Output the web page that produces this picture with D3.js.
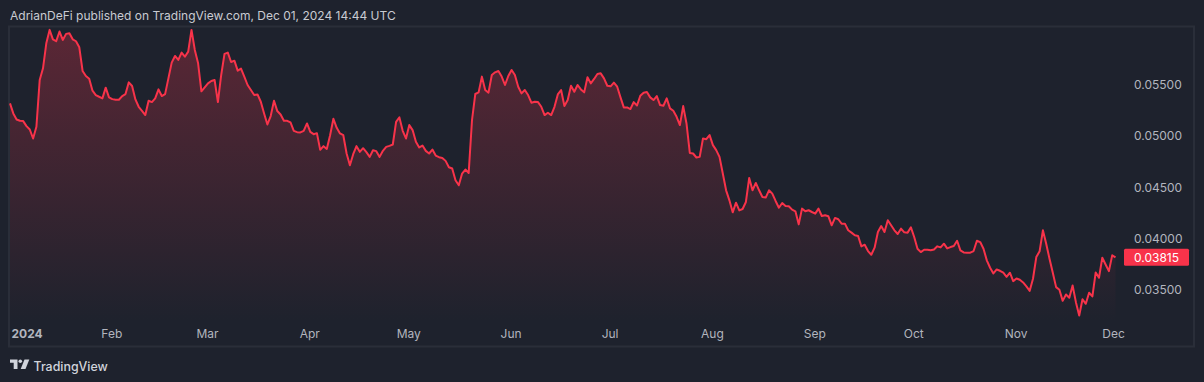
<!DOCTYPE html>
<html>
<head>
<meta charset="utf-8">
<script src="https://cdn.jsdelivr.net/npm/d3@7"></script>
<style>
    html, body { margin: 0; padding: 0; background: #1e222d; overflow: hidden; }
    svg { display: block; }
    text { font-family: Inter, "Noto Sans", sans-serif; }
</style>
</head>
<body>
<svg id="chart" width="1204" height="382"></svg>
<script>
// Daily close, first value is 2024-01-01, last is 2024-12-01
const startDate = '2024-01-01';
const prices = [
    0.05320, 0.05222, 0.05163, 0.05150, 0.05147, 0.05098, 0.05065, 0.04977, 0.05091, 0.05549,
    0.05663, 0.05908, 0.06039, 0.05947, 0.05928, 0.06023, 0.05941, 0.06000, 0.06006, 0.05947,
    0.05928, 0.05869, 0.05637, 0.05588, 0.05562, 0.05444, 0.05402, 0.05385, 0.05369, 0.05474,
    0.05379, 0.05362, 0.05356, 0.05356, 0.05392, 0.05411, 0.05526, 0.05490, 0.05359, 0.05287,
    0.05248, 0.05206, 0.05346, 0.05333, 0.05369, 0.05457, 0.05392, 0.05411, 0.05565, 0.05719,
    0.05784, 0.05745, 0.05817, 0.05777, 0.05826, 0.06039, 0.05843, 0.05712, 0.05438, 0.05477,
    0.05516, 0.05539, 0.05549, 0.05333, 0.05598, 0.05804, 0.05817, 0.05725, 0.05738, 0.05640,
    0.05660, 0.05581, 0.05500, 0.05451, 0.05402, 0.05408, 0.05336, 0.05222, 0.05114, 0.05196,
    0.05346, 0.05245, 0.05212, 0.05150, 0.05150, 0.05134, 0.05052, 0.05039, 0.05036, 0.05052,
    0.05124, 0.05042, 0.05019, 0.05029, 0.04866, 0.04902, 0.04875, 0.05009, 0.05170, 0.05081,
    0.05026, 0.05009, 0.04830, 0.04715, 0.04823, 0.04902, 0.04846, 0.04882, 0.04843, 0.04797,
    0.04862, 0.04853, 0.04797, 0.04856, 0.04895, 0.04905, 0.04918, 0.05140, 0.05183, 0.05052,
    0.04977, 0.05108, 0.05059, 0.04944, 0.04889, 0.04908, 0.04856, 0.04830, 0.04869, 0.04810,
    0.04794, 0.04787, 0.04758, 0.04696, 0.04683, 0.04568, 0.04519, 0.04634, 0.04673, 0.04640,
    0.05157, 0.05412, 0.05428, 0.05582, 0.05451, 0.05425, 0.05598, 0.05624, 0.05637, 0.05582,
    0.05500, 0.05588, 0.05647, 0.05598, 0.05483, 0.05418, 0.05451, 0.05402, 0.05327, 0.05336,
    0.05333, 0.05287, 0.05206, 0.05229, 0.05206, 0.05287, 0.05408, 0.05451, 0.05294, 0.05353,
    0.05493, 0.05434, 0.05500, 0.05457, 0.05428, 0.05575, 0.05516, 0.05559, 0.05608, 0.05614,
    0.05565, 0.05493, 0.05487, 0.05523, 0.05483, 0.05379, 0.05281, 0.05281, 0.05265, 0.05333,
    0.05300, 0.05395, 0.05425, 0.05431, 0.05379, 0.05353, 0.05392, 0.05304, 0.05297, 0.05369,
    0.05271, 0.05248, 0.05189, 0.05108, 0.05294, 0.05124, 0.04836, 0.04830, 0.04791, 0.04797,
    0.04977, 0.04970, 0.05010, 0.04912, 0.04863, 0.04797, 0.04634, 0.04470, 0.04372, 0.04255,
    0.04349, 0.04274, 0.04287, 0.04356, 0.04591, 0.04470, 0.04542, 0.04470, 0.04405, 0.04399,
    0.04470, 0.04438, 0.04366, 0.04300, 0.04346, 0.04317, 0.04314, 0.04281, 0.04265, 0.04137,
    0.04291, 0.04265, 0.04275, 0.04258, 0.04242, 0.04291, 0.04219, 0.04226, 0.04216, 0.04128,
    0.04200, 0.04187, 0.04144, 0.04144, 0.04079, 0.04056, 0.04030, 0.04023, 0.03922, 0.03938,
    0.03876, 0.03840, 0.03909, 0.04062, 0.04121, 0.04062, 0.04177, 0.04128, 0.04079, 0.04043,
    0.04095, 0.04059, 0.04056, 0.04108, 0.04013, 0.03899, 0.03866, 0.03889, 0.03889, 0.03883,
    0.03892, 0.03922, 0.03912, 0.03948, 0.03902, 0.03915, 0.03925, 0.03977, 0.03883, 0.03863,
    0.03860, 0.03860, 0.03876, 0.03977, 0.03964, 0.03899, 0.03785, 0.03713, 0.03657, 0.03696,
    0.03683, 0.03664, 0.03624, 0.03664, 0.03582, 0.03608, 0.03595, 0.03569, 0.03530, 0.03487,
    0.03605, 0.03817, 0.03873, 0.04079, 0.03948, 0.03801, 0.03664, 0.03523, 0.03497, 0.03389,
    0.03451, 0.03419, 0.03539, 0.03376, 0.03245, 0.03405, 0.03360, 0.03468, 0.03432, 0.03667,
    0.03615, 0.03811, 0.03745, 0.03680, 0.03834, 0.03815
];
const lastPrice = 0.03815;
const priceTicks = [0.035, 0.04, 0.045, 0.05, 0.055];
const monthTicks = ['2024-01-01', '2024-02-01', '2024-03-01', '2024-04-01', '2024-05-01', '2024-06-01',
    '2024-07-01', '2024-08-01', '2024-09-01', '2024-10-01', '2024-11-01', '2024-12-01'];
const monthLabels = ['2024', 'Feb', 'Mar', 'Apr', 'May', 'Jun', 'Jul', 'Aug', 'Sep', 'Oct', 'Nov', 'Dec'];
const publishedText = 'AdrianDeFi published on TradingView.com, Dec 01, 2024 14:44 UTC';

const lineColour = '#f8334a';
const borderColour = '#2a2e39';
const labelColour = '#b2b5be';

const svg = d3.select('#chart');
const parseDay = d3.utcParse('%Y-%m-%d');
const t0 = parseDay(startDate);
const data = prices.map((p, i) => ({ date: d3.utcDay.offset(t0, i), price: p }));

const paneBottom = 322;

const xScale = d3.scaleUtc()
    .domain([t0, parseDay('2024-12-01')])
    .range([10, 1115.5]);

const yScale = d3.scaleLinear()
    .domain([0.035, 0.055])
    .range([289.5, 85]);

// Fade of the area, strongest at the top of the series
const grad = svg.append('defs').append('linearGradient')
    .attr('id', 'areaFade')
    .attr('gradientUnits', 'userSpaceOnUse')
    .attr('x1', 0).attr('x2', 0)
    .attr('y1', yScale(d3.max(prices))).attr('y2', paneBottom);
grad.append('stop').attr('offset', 0).attr('stop-color', lineColour).attr('stop-opacity', 0.28);
grad.append('stop').attr('offset', 1).attr('stop-color', lineColour).attr('stop-opacity', 0);

// Outer frame of the published picture
svg.append('rect')
    .attr('x', 9).attr('y', 26.5)
    .attr('width', 1185).attr('height', 320)
    .attr('fill', 'none')
    .attr('stroke', borderColour)
    .attr('stroke-width', 2);

const area = d3.area()
    .x(d => xScale(d.date))
    .y0(paneBottom)
    .y1(d => yScale(d.price));

const line = d3.line()
    .x(d => xScale(d.date))
    .y(d => yScale(d.price));

svg.append('path')
    .datum(data)
    .attr('d', area)
    .attr('fill', 'url(#areaFade)');

svg.append('path')
    .datum(data)
    .attr('d', line)
    .attr('fill', 'none')
    .attr('stroke', lineColour)
    .attr('stroke-width', 2)
    .attr('stroke-linejoin', 'round');

// Price axis on the right
const yAxis = d3.axisRight(yScale)
    .tickValues(priceTicks)
    .tickFormat(d3.format('.5f'))
    .tickSize(0)
    .tickPadding(0);

const yAxisG = svg.append('g')
    .attr('transform', 'translate(1134, 0)')
    .call(yAxis);
yAxisG.select('.domain').remove();
yAxisG.selectAll('text')
    .attr('font-size', 12)
    .attr('fill', labelColour)
    .style('font-family', 'Inter, sans-serif');

// Time axis at the bottom
const xAxis = d3.axisBottom(xScale)
    .tickValues(monthTicks.map(parseDay))
    .tickFormat((d, i) => monthLabels[i])
    .tickSize(0)
    .tickPadding(0);

const xAxisG = svg.append('g')
    .attr('transform', 'translate(-1, 329)')
    .call(xAxis);
xAxisG.select('.domain').remove();
xAxisG.selectAll('text')
    .attr('font-size', 12)
    .attr('fill', labelColour)
    .style('font-family', 'Inter, sans-serif');
// The year label is bold and kept inside the pane, Dec sits a bit left of its bar
xAxisG.selectAll('text').filter((d, i) => i === 0)
    .attr('text-anchor', 'start')
    .attr('dx', 2)
    .attr('font-weight', 700);
xAxisG.selectAll('text').filter((d, i) => i === monthLabels.length - 1)
    .attr('dx', -1.5);

// Last price tag
svg.append('rect')
    .attr('x', 1124)
    .attr('y', yScale(lastPrice) - 8.5)
    .attr('width', 65)
    .attr('height', 17)
    .attr('rx', 1.5)
    .attr('fill', lineColour);
svg.append('text')
    .attr('x', 1134)
    .attr('y', yScale(lastPrice))
    .attr('dy', '0.36em')
    .attr('font-size', 12)
    .attr('fill', '#ffffff')
    .text(d3.format('.5f')(lastPrice));

// Header line
svg.append('text')
    .attr('x', 10)
    .attr('y', 20)
    .attr('font-size', 12)
    .attr('fill', '#c9cbd2')
    .text(publishedText);

// TradingView mark and name
const logo = svg.append('g').attr('fill', '#d1d4dc');
logo.append('path').attr('d', 'M10 359.5h7.5v9.5h-3.8v-6.3h-3.7z');
logo.append('circle').attr('cx', 20.3).attr('cy', 361.2).attr('r', 1.8);
logo.append('path').attr('d', 'M24.5 359.5h4.8l-3.8 9.5h-4.8z');
svg.append('text')
    .attr('x', 33.5)
    .attr('y', 370.5)
    .attr('font-size', 12.4)
    .attr('font-weight', 500)
    .attr('fill', '#d1d4dc')
    .text('TradingView');
</script>
</body>
</html>
